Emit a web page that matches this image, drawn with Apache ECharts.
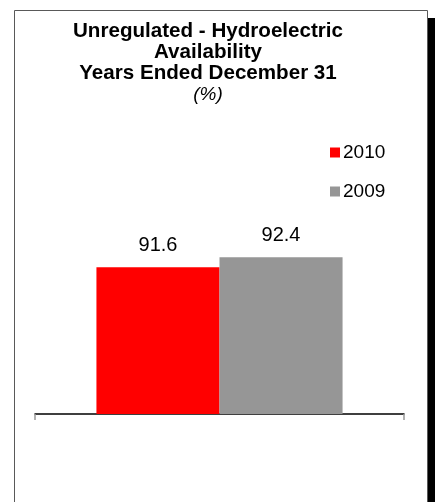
<!DOCTYPE html>
<html>
<head>
<meta charset="utf-8">
<script src="https://cdn.jsdelivr.net/npm/echarts@6/dist/echarts.min.js"></script>
<style>
html,body{margin:0;padding:0;background:#fff;}
#c{width:444px;height:502px;}
</style>
</head>
<body>
<div id="c"></div>
<script>
var categories = ['Availability'];
var seriesNames = ['2010', '2009'];
var values2010 = [91.6];
var values2009 = [92.4];
var titleLines = ['Unregulated - Hydroelectric', 'Availability', 'Years Ended December 31'];
var unitLabel = '(%)';

var chart = echarts.init(document.getElementById('c'), null, {renderer: 'canvas'});
var FONT = '"Liberation Sans", Arial, sans-serif';
chart.setOption({
  animation: false,
  backgroundColor: '#fff',
  textStyle: {fontFamily: FONT},
  graphic: [
    {type: 'rect', z: 0, silent: true, shape: {x: 428, y: 18, width: 7, height: 490}, style: {fill: '#000'}},
    {type: 'rect', z: 0, silent: true, shape: {x: 14.5, y: 10.5, width: 413, height: 500}, style: {fill: 'none', stroke: '#595959', lineWidth: 1}}
  ],
  title: {
    text: titleLines.map(function (l) { return '{b|' + l + '}'; }).join('\n') + '\n{i|' + unitLabel + '}',
    left: 203,
    textAlign: 'center',
    top: 16,
    textStyle: {
      fontWeight: 'normal',
      rich: {
        b: {fontFamily: FONT, fontSize: 20.6, fontWeight: 'bold', color: '#000', lineHeight: 21, align: 'center'},
        i: {fontFamily: FONT, fontSize: 19, fontStyle: 'italic', fontWeight: 'normal', color: '#000', lineHeight: 21, align: 'center'}
      }
    }
  },
  legend: {
    orient: 'vertical',
    left: 330,
    top: 143,
    padding: 0,
    itemWidth: 10,
    itemHeight: 10,
    itemGap: 20,
    icon: 'rect',
    textStyle: {fontFamily: FONT, fontSize: 19, color: '#000', padding: [0, 0, 0, -2]},
    data: seriesNames
  },
  grid: {left: 35, right: 40, top: 161, bottom: 88, containLabel: false},
  xAxis: {
    type: 'category',
    data: categories,
    axisLine: {show: true, onZero: false, lineStyle: {color: '#000', width: 1.5}},
    axisTick: {show: true, length: 6, lineStyle: {color: '#999', width: 1.5}},
    axisLabel: {show: false}
  },
  yAxis: {
    type: 'value',
    min: 80,
    max: 100,
    show: false,
    splitLine: {show: false}
  },
  series: [
    {
      name: seriesNames[0], type: 'bar', data: values2010,
      itemStyle: {color: '#ff0000'},
      barGap: '0%', barCategoryGap: '33.3%',
      label: {show: true, position: 'top', distance: 12, fontFamily: FONT, fontSize: 20, color: '#000', formatter: function (p) { return p.value.toFixed(1); }}
    },
    {
      name: seriesNames[1], type: 'bar', data: values2009,
      itemStyle: {color: '#969696'},
      barGap: '0%', barCategoryGap: '33.3%',
      label: {show: true, position: 'top', distance: 12, fontFamily: FONT, fontSize: 20, color: '#000', formatter: function (p) { return p.value.toFixed(1); }}
    }
  ]
});
</script>
</body>
</html>
